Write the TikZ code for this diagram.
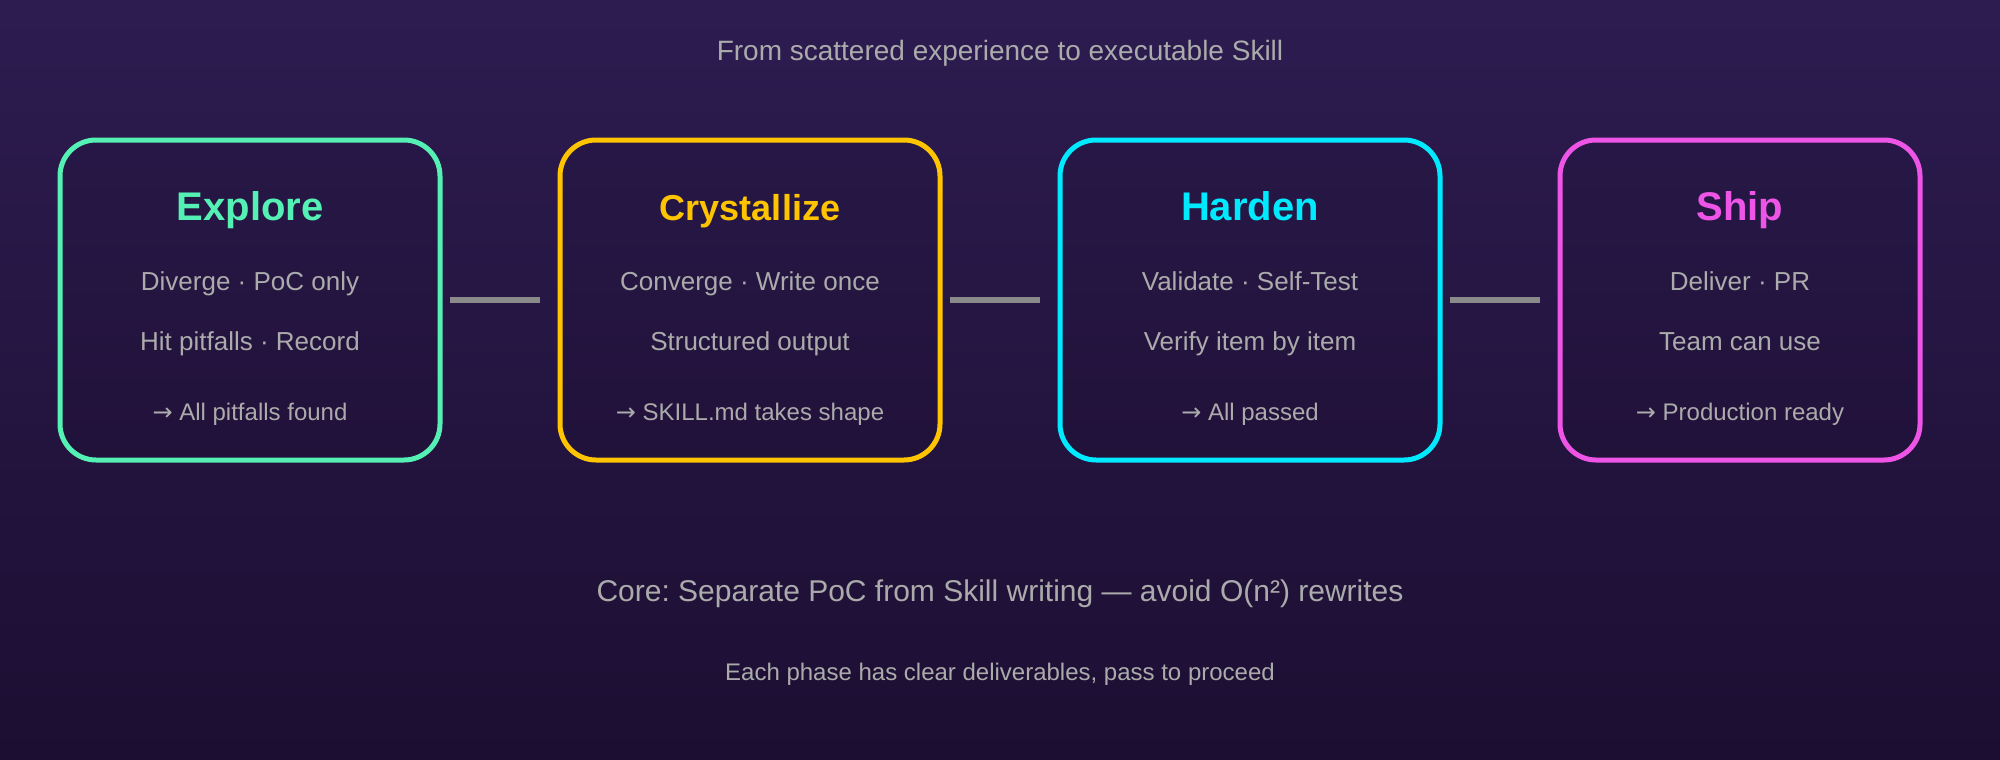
\documentclass[tikz,border=0pt]{standalone}
\usepackage{fontspec}
\setmainfont{Liberation Sans}
\newfontfamily\arrowfont{DejaVu Sans}
\frenchspacing
\newcommand{\resarrow}{{\arrowfont →}}
\definecolor{bgtop}{HTML}{2D1C50}
\definecolor{bgbot}{HTML}{1C0E32}
\definecolor{txt}{HTML}{ABABAB}
\definecolor{conncol}{HTML}{8A8A8A}
\definecolor{cgreen}{HTML}{55F0B4}
\definecolor{cyellow}{HTML}{FFC400}
\definecolor{ccyan}{HTML}{00EAFF}
\definecolor{cpink}{HTML}{EE55E6}
\tikzset{
  phasebox/.style={draw=#1, line width=5pt, rounded corners=36pt, minimum height=320pt, inner sep=0pt, outer sep=0pt, fill=black, fill opacity=0.05},
  phasetitle/.style={font=\bfseries\fontsize{40}{48}\selectfont, text=#1, anchor=base},
  bodytext/.style={font=\fontsize{26}{31}\selectfont, text=txt, anchor=base},
  restext/.style={font=\fontsize{24}{29}\selectfont, text=txt, anchor=base},
  conn/.style={draw=conncol, line width=6pt},
  headtext/.style={font=\fontsize{28}{34}\selectfont, text=txt, anchor=base},
  coretext/.style={font=\fontsize{30}{36}\selectfont, text=txt, anchor=base},
  foottext/.style={font=\fontsize{24}{29}\selectfont, text=txt, anchor=base},
}
\begin{document}
\begin{tikzpicture}[x=1pt,y=-1pt]
\useasboundingbox (0,0) rectangle (2000,760);
\shade[top color=bgtop, bottom color=bgbot] (0,0) rectangle (2000,760);

\node[headtext] (head) at (1000,60) {From scattered experience to executable Skill};

\node[phasebox=cgreen, minimum width=380pt] (b1) at (250,300) {};
\node[phasebox=cyellow, minimum width=380pt] (b2) at (750,300) {};
\node[phasebox=ccyan, minimum width=380pt] (b3) at (1250,300) {};
\node[phasebox=cpink, minimum width=360pt] (b4) at (1740,300) {};

\node[phasetitle=cgreen] (t1) at (250,220) {Explore};
\node[bodytext] (l1a) at (250,290) {Diverge · PoC only};
\node[bodytext] (l1b) at (250,350) {Hit pitfalls · Record};
\node[restext] (r1) at (250,420) {\resarrow{} All pitfalls found};

\node[phasetitle=cyellow, font=\bfseries\fontsize{36}{44}\selectfont] (t2) at (750,220) {Crystallize};
\node[bodytext] (l2a) at (750,290) {Converge · Write once};
\node[bodytext] (l2b) at (750,350) {Structured output};
\node[restext] (r2) at (750,420) {\resarrow{} SKILL.md takes shape};

\node[phasetitle=ccyan] (t3) at (1250,220) {Harden};
\node[bodytext] (l3a) at (1250,290) {Validate · Self-Test};
\node[bodytext] (l3b) at (1250,350) {Verify item by item};
\node[restext] (r3) at (1250,420) {\resarrow{} All passed};

\node[phasetitle=cpink] (t4) at (1740,220) {Ship};
\node[bodytext] (l4a) at (1740,290) {Deliver · PR};
\node[bodytext] (l4b) at (1740,350) {Team can use};
\node[restext] (r4) at (1740,420) {\resarrow{} Production ready};

\draw[conn] ([xshift=10pt]b1.east) -- ([xshift=-20pt]b2.west);
\draw[conn] ([xshift=10pt]b2.east) -- ([xshift=-20pt]b3.west);
\draw[conn] ([xshift=10pt]b3.east) -- ([xshift=-20pt]b4.west);

\node[coretext] (core) at (1000,601) {Core: Separate PoC from Skill writing — avoid O(n²) rewrites};
\node[foottext] (foot) at (1000,680) {Each phase has clear deliverables, pass to proceed};
\end{tikzpicture}
\end{document}
